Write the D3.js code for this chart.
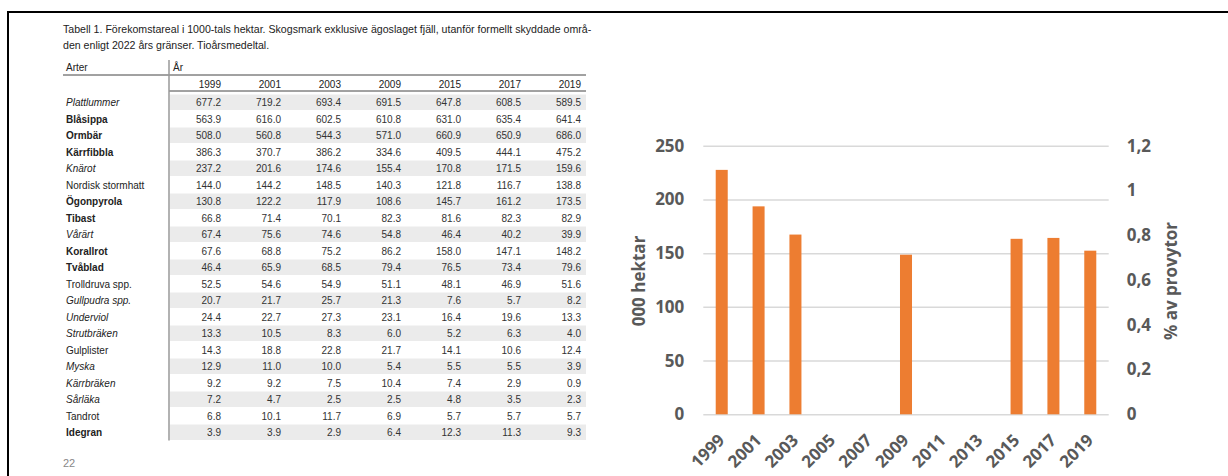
<!DOCTYPE html>
<html>
<head>
<meta charset="utf-8">
<script src="https://cdn.jsdelivr.net/npm/d3@7"></script>
<style>
  body { margin: 0; background: #fff; }
  .tab { font-family: "Liberation Sans", Arial, sans-serif; font-size: 10px; fill: #222; }
  .dia { font-family: "Open Sans", sans-serif; font-weight: 700; font-size: 17px; fill: #595959; }
</style>
</head>
<body>
<script>
// tabell: förekomstareal i 1000-tals hektar
var tabellAr = ["1999", "2001", "2003", "2009", "2015", "2017", "2019"];

var arter = ["Plattlummer", "Blåsippa", "Ormbär", "Kärrfibbla", "Knärot", "Nordisk stormhatt",
    "Ögonpyrola", "Tibast", "Vårärt", "Korallrot", "Tvåblad", "Trolldruva spp.", "Gullpudra spp.",
    "Underviol", "Strutbräken", "Gulplister", "Myska", "Kärrbräken", "Sårläka", "Tandrot", "Idegran"];

// b = fet, i = kursiv, n = normal
var arterStil = ["i", "b", "b", "b", "i", "n", "b", "b", "i", "b", "b", "n", "i",
    "i", "i", "n", "i", "i", "i", "n", "b"];

var tabellVarden = [
    [677.2, 719.2, 693.4, 691.5, 647.8, 608.5, 589.5],
    [563.9, 616.0, 602.5, 610.8, 631.0, 635.4, 641.4],
    [508.0, 560.8, 544.3, 571.0, 660.9, 650.9, 686.0],
    [386.3, 370.7, 386.2, 334.6, 409.5, 444.1, 475.2],
    [237.2, 201.6, 174.6, 155.4, 170.8, 171.5, 159.6],
    [144.0, 144.2, 148.5, 140.3, 121.8, 116.7, 138.8],
    [130.8, 122.2, 117.9, 108.6, 145.7, 161.2, 173.5],
    [66.8, 71.4, 70.1, 82.3, 81.6, 82.3, 82.9],
    [67.4, 75.6, 74.6, 54.8, 46.4, 40.2, 39.9],
    [67.6, 68.8, 75.2, 86.2, 158.0, 147.1, 148.2],
    [46.4, 65.9, 68.5, 79.4, 76.5, 73.4, 79.6],
    [52.5, 54.6, 54.9, 51.1, 48.1, 46.9, 51.6],
    [20.7, 21.7, 25.7, 21.3, 7.6, 5.7, 8.2],
    [24.4, 22.7, 27.3, 23.1, 16.4, 19.6, 13.3],
    [13.3, 10.5, 8.3, 6.0, 5.2, 6.3, 4.0],
    [14.3, 18.8, 22.8, 21.7, 14.1, 10.6, 12.4],
    [12.9, 11.0, 10.0, 5.4, 5.5, 5.5, 3.9],
    [9.2, 9.2, 7.5, 10.4, 7.4, 2.9, 0.9],
    [7.2, 4.7, 2.5, 2.5, 4.8, 3.5, 2.3],
    [6.8, 10.1, 11.7, 6.9, 5.7, 5.7, 5.7],
    [3.9, 3.9, 2.9, 6.4, 12.3, 11.3, 9.3]
];

// diagram
var diagramAr = ["1999", "2001", "2003", "2005", "2007", "2009", "2011", "2013", "2015", "2017", "2019"];
var andelProvytor = [1.092, 0.929, 0.803, null, null, 0.713, null, null, 0.784, 0.788, 0.731];
var hektarTicks = [0, 50, 100, 150, 200, 250];
var andelTicks = [0, 0.2, 0.4, 0.6, 0.8, 1.0, 1.2];

var svg = d3.select("body").append("svg")
    .attr("width", 1228)
    .attr("height", 476);

// ram
svg.append("line").attr("x1", 8).attr("x2", 1228).attr("y1", 12).attr("y2", 12)
    .attr("stroke", "#000").attr("stroke-width", 2);
svg.append("line").attr("x1", 8).attr("x2", 8).attr("y1", 11).attr("y2", 476)
    .attr("stroke", "#000").attr("stroke-width", 2);

// ---------- tabell ----------
var tab = svg.append("g").attr("class", "tab");

tab.append("text").attr("x", 63).attr("y", 33).style("font-size", "10.6px")
    .text("Tabell 1. Förekomstareal i 1000-tals hektar. Skogsmark exklusive ägoslaget fjäll, utanför formellt skyddade områ-");
tab.append("text").attr("x", 63).attr("y", 49).style("font-size", "10.6px")
    .text("den enligt 2022 års gränser. Tioårsmedeltal.");

var radY = d3.scaleBand().domain(d3.range(arter.length)).range([94, 94 + 16.5 * arter.length]);
var kolX = d3.scalePoint().domain(tabellAr).range([221, 581]);

tab.selectAll("rect.rad")
    .data(d3.range(arter.length).filter(function(i) { return i % 2 == 0; }))
    .enter().append("rect")
    .attr("class", "rad")
    .attr("x", 170)
    .attr("y", function(i) { return radY(i) + 0.5; })
    .attr("width", 416)
    .attr("height", radY.bandwidth() - 1)
    .attr("fill", "#ebebeb");

tab.append("line").attr("x1", 63).attr("x2", 586).attr("y1", 75).attr("y2", 75)
    .attr("stroke", "#444").attr("stroke-width", 1);
tab.append("line").attr("x1", 169).attr("x2", 586).attr("y1", 91).attr("y2", 91)
    .attr("stroke", "#444").attr("stroke-width", 1);
tab.append("line").attr("x1", 169).attr("x2", 169).attr("y1", 60).attr("y2", radY.range()[1])
    .attr("stroke", "#999").attr("stroke-width", 1.5);

tab.append("text").attr("x", 66).attr("y", 71).text("Arter");
tab.append("text").attr("x", 173).attr("y", 71).text("År");

tab.selectAll("text.ar")
    .data(tabellAr)
    .enter().append("text")
    .attr("class", "ar")
    .attr("x", function(d) { return kolX(d); })
    .attr("y", 88)
    .attr("text-anchor", "end")
    .text(function(d) { return d; });

tab.selectAll("text.art")
    .data(arter)
    .enter().append("text")
    .attr("class", "art")
    .attr("x", 66)
    .attr("y", function(d, i) { return radY(i) + 12; })
    .attr("font-weight", function(d, i) { return arterStil[i] == "b" ? 700 : 400; })
    .attr("font-style", function(d, i) { return arterStil[i] == "i" ? "italic" : "normal"; })
    .text(function(d) { return d; });

var rader = tab.selectAll("g.rad")
    .data(tabellVarden)
    .enter().append("g")
    .attr("class", "rad")
    .attr("transform", function(d, i) { return "translate(0," + (radY(i) + 12) + ")"; });

rader.selectAll("text")
    .data(function(d) { return d; })
    .enter().append("text")
    .attr("x", function(d, j) { return kolX(tabellAr[j]); })
    .attr("text-anchor", "end")
    .attr("fill", "#333")
    .text(function(d) { return d.toFixed(1); });

tab.append("text").attr("x", 63).attr("y", 467).style("fill", "#888").style("font-size", "11px")
    .text("22");

// ---------- diagram ----------
var x = d3.scaleBand().domain(diagramAr).range([703.3, 1108.7])
    .paddingInner(0.674).paddingOuter(0.337);
var yL = d3.scaleLinear().domain([0, 250]).range([414.3, 145.7]);
var yR = d3.scaleLinear().domain([0, 1.2]).range([414.3, 145.7]);

var dia = svg.append("g").attr("class", "dia");

var grid = dia.append("g")
    .attr("transform", "translate(703.3,0)")
    .call(d3.axisLeft(yL).tickValues(hektarTicks).tickSize(-405.4).tickFormat(""));
grid.select(".domain").remove();
grid.selectAll("line").attr("stroke", "#d9d9d9").attr("stroke-width", 1.5);

dia.selectAll("rect.stapel")
    .data(andelProvytor.map(function(v, i) { return {ar: diagramAr[i], v: v}; })
        .filter(function(d) { return d.v != null; }))
    .enter().append("rect")
    .attr("class", "stapel")
    .attr("x", function(d) { return x(d.ar); })
    .attr("y", function(d) { return yR(d.v); })
    .attr("width", x.bandwidth())
    .attr("height", function(d) { return yR(0) - yR(d.v); })
    .attr("fill", "#ed7d31");

var axL = dia.append("g")
    .attr("transform", "translate(703.3,0)")
    .call(d3.axisLeft(yL).tickValues(hektarTicks).tickSize(0).tickPadding(19));
axL.select(".domain").remove();

var axR = dia.append("g")
    .attr("transform", "translate(1108.7,0)")
    .call(d3.axisRight(yR).tickValues(andelTicks).tickSize(0).tickPadding(18)
        .tickFormat(function(d) { return String(+d.toFixed(1)).replace(".", ","); }));
axR.select(".domain").remove();

var axX = dia.append("g")
    .attr("transform", "translate(0,414.3)")
    .call(d3.axisBottom(x).tickSize(0).tickPadding(0));
axX.select(".domain").remove();
axX.selectAll("text")
    .attr("text-anchor", "end")
    .attr("dy", 0)
    .attr("y", 0)
    .attr("transform", "translate(4,27) rotate(-45)");

dia.selectAll(".tick text")
    .attr("fill", "#595959")
    .style("font-family", "'Open Sans', sans-serif")
    .style("font-weight", 700)
    .style("font-size", "17px");

dia.append("text")
    .attr("transform", "translate(638,281) rotate(-90)")
    .attr("text-anchor", "middle")
    .attr("dominant-baseline", "central")
    .text("000 hektar");

dia.append("text")
    .attr("transform", "translate(1170,281) rotate(-90)")
    .attr("text-anchor", "middle")
    .attr("dominant-baseline", "central")
    .text("% av provytor");
</script>
</body>
</html>
